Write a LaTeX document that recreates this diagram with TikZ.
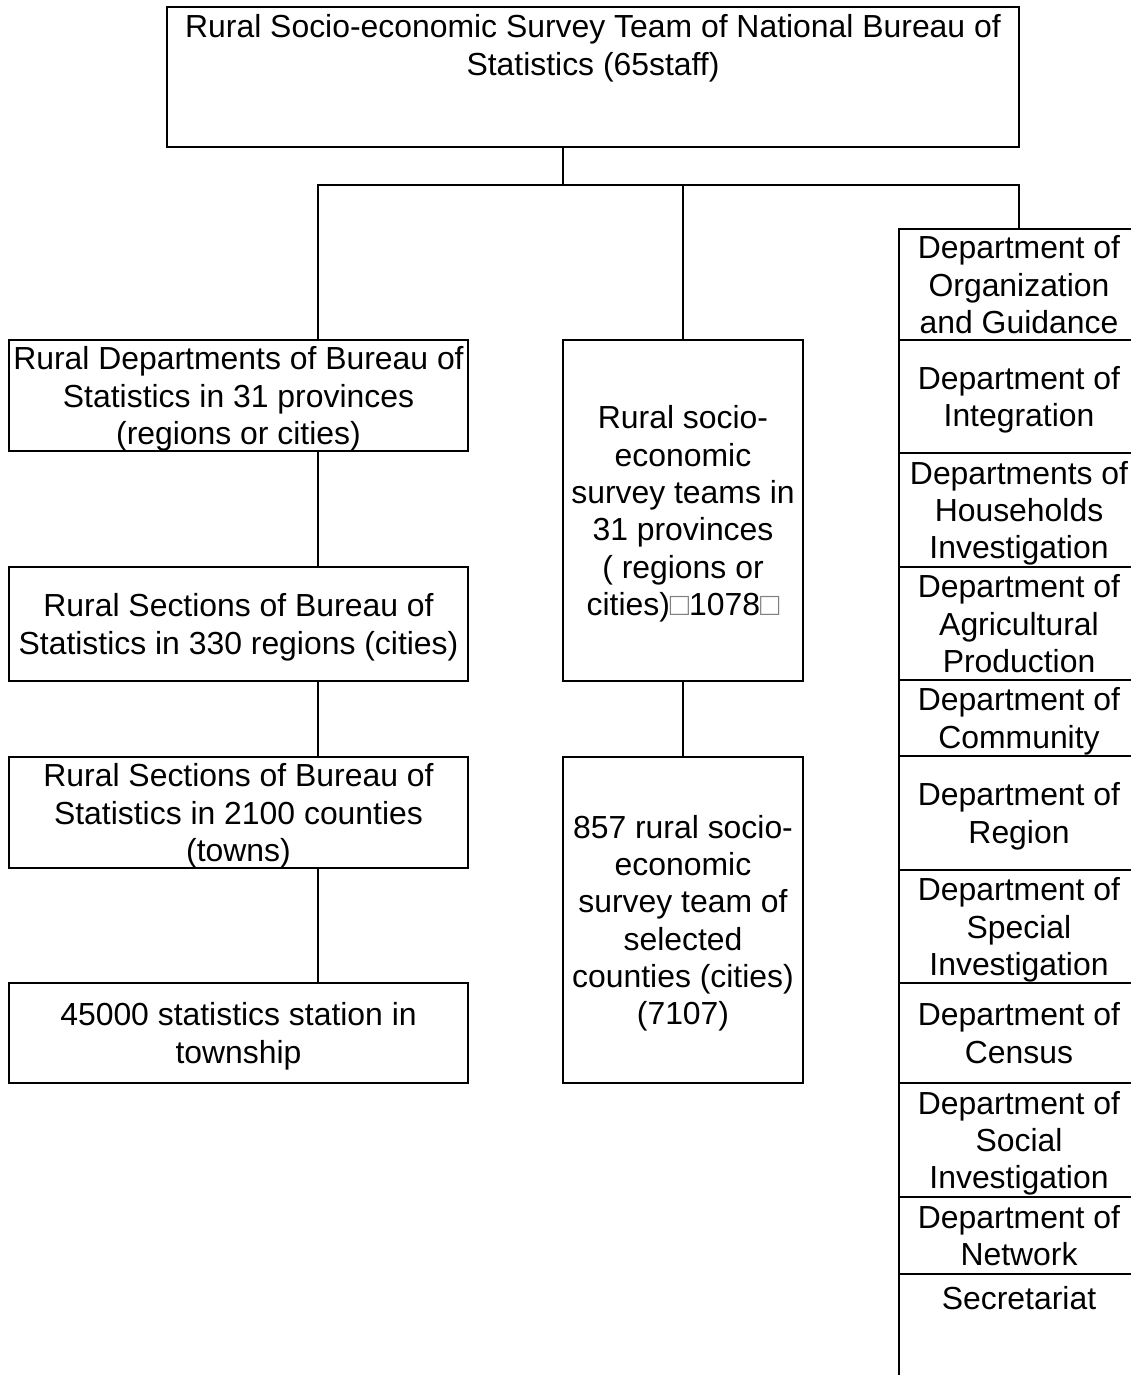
\documentclass[tikz,border=0pt]{standalone}
\usepackage{fontspec}
\setmainfont{Liberation Sans}
\usetikzlibrary{calc,positioning}

\begin{document}
\begin{tikzpicture}[x=1pt,y=-1pt,inner sep=0pt,outer sep=0pt,line width=1.7pt,
  font=\fontsize{31.9}{37.3}\selectfont,
  box/.style 2 args={draw,rectangle,align=center,minimum width=#1,minimum height=#2,text depth=-3pt}]

\useasboundingbox (0,0) rectangle (1130,1375);

 \coordinate (hub) at (563,185);
 \coordinate (lt) at (318,185);

\node[draw,anchor=north west,text width=840pt,inner xsep=6pt,align=flush center,
  text height=31pt,text depth=109pt] (top) at (167,7)
  {Rural Socio-economic Survey Team of National Bureau of\\Statistics (65staff)};

\node[box={459pt}{111pt},anchor=north] (rd) at (238.5,340)
  {Rural Departments of Bureau of\\Statistics in 31 provinces\\(regions or cities)};
\node[box={459pt}{114pt},below=116pt of rd] (rs)
  {Rural Sections of Bureau of\\Statistics in 330 regions (cities)};
\node[box={459pt}{111pt},below=76pt of rs] (rc)
  {Rural Sections of Bureau of\\Statistics in 2100 counties\\(towns)};
\node[box={459pt}{100pt},below=115pt of rc] (st)
  {45000 statistics station in\\township};

\node[box={240pt}{341pt},anchor=north] (ms) at (683,340)
  {Rural socio-\\economic\\survey teams in\\31 provinces\\( regions or\\cities){\color{gray}□}1078{\color{gray}□}};
\node[box={240pt}{326pt},below=76pt of ms] (mc)
  {857 rural socio-\\economic\\survey team of\\selected\\counties (cities)\\(7107)};

\node[box={240pt}{111pt},anchor=north] (d1) at (1019,229)
  {Department of\\Organization\\and Guidance};
\node[box={240pt}{113pt},below=0pt of d1] (d2) {Department of\\Integration};
\node[box={240pt}{114pt},below=0pt of d2] (d3) {Departments of\\Households\\Investigation};
\node[box={240pt}{113pt},below=0pt of d3] (d4) {Department of\\Agricultural\\Production};
\node[box={240pt}{76pt},below=0pt of d4] (d5) {Department of\\Community};
\node[box={240pt}{114pt},below=0pt of d5] (d6) {Department of\\Region};
\node[box={240pt}{113pt},below=0pt of d6] (d7) {Department of\\Special\\Investigation};
\node[box={240pt}{100pt},below=0pt of d7] (d8) {Department of\\Census};
\node[box={240pt}{114pt},below=0pt of d8] (d9) {Department of\\Social\\Investigation};
\node[box={240pt}{77pt},below=0pt of d9] (d10) {Department of\\Network};
\node[draw,minimum width=240pt,text height=35pt,text depth=90pt,below=0pt of d10] (d11)
  {Secretariat};

\draw (hub |- top.south) -- (hub);
\draw (lt |- rd.north) -- (lt) -- (d1.north |- lt) -- (d1.north);
\draw (ms.north) -- (ms.north |- hub);
\draw (lt |- rd.south) -- (lt |- rs.north);
\draw (lt |- rs.south) -- (lt |- rc.north);
\draw (lt |- rc.south) -- (lt |- st.north);
\draw (ms.south) -- (mc.north);

\end{tikzpicture}
\end{document}
